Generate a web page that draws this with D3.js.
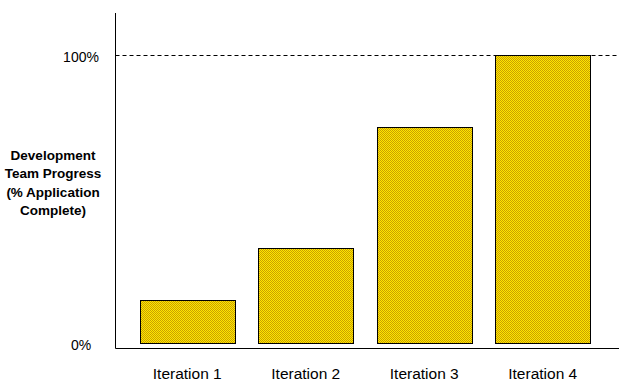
<!DOCTYPE html>
<html>
<meta charset="utf-8">
<head>
  <script src="https://d3js.org/d3.v7.min.js"></script>
  <style>
  body { margin: 0; background: #fff; }
  svg { display: block; font-family: Arial, "Liberation Sans", sans-serif; }
  .tick-label { font-size: 14px; fill: #000; }
  .cat-label { font-size: 15.5px; fill: #000; }
  .ytitle { font-size: 13.5px; font-weight: bold; fill: #000; }
  </style>
</head>
<body>
<div id="chart"></div>
<script>

// data
var iterations = ["Iteration 1", "Iteration 2", "Iteration 3", "Iteration 4"]
var progress = [15, 33, 75, 100]   // % application complete
var tickValues = [0, 100]
var tickLabels = ["0%", "100%"]
var titleLines = ["Development", "Team Progress", "(% Application", "Complete)"]

var W = 634, H = 386
var axisX = 115.5, axisTop = 13, axisY = 348.5, axisRight = 619

var svg = d3.select("#chart").append("svg")
    .attr("width", W)
    .attr("height", H)

// checker fill like the old office charts
var pat = svg.append("defs").append("pattern")
    .attr("id", "checker")
    .attr("patternUnits", "userSpaceOnUse")
    .attr("width", 2)
    .attr("height", 2)
pat.append("rect").attr("width", 2).attr("height", 2).attr("fill", "#ffe600")
pat.append("rect").attr("width", 1).attr("height", 1).attr("fill", "#c8a000")
pat.append("rect").attr("x", 1).attr("y", 1).attr("width", 1).attr("height", 1).attr("fill", "#c8a000")

var x = d3.scaleBand()
    .domain(iterations)
    .range([116, 614])
    .paddingInner(0.197)
    .paddingOuter(0.2)

var y = d3.scaleLinear()
    .domain([0, 100])
    .range([343, 55])

// dashed 100% line
svg.append("line")
    .attr("x1", axisX).attr("x2", axisRight)
    .attr("y1", y(100) + 0.5).attr("y2", y(100) + 0.5)
    .attr("stroke", "#000")
    .attr("stroke-dasharray", "4,3")

svg.selectAll("rect.bar").data(progress)
  .enter().append("rect")
    .attr("class", "bar")
    .attr("x", function(d, i) { return Math.round(x(iterations[i])) + 0.5 })
    .attr("y", function(d) { return Math.round(y(d)) + 0.5 })
    .attr("width", Math.round(x.bandwidth()))
    .attr("height", function(d) { return Math.round(y(0)) - Math.round(y(d)) })
    .attr("fill", "url(#checker)")
    .attr("stroke", "#000")
    .attr("stroke-width", 1)

// axes
svg.append("line")
    .attr("x1", axisX).attr("x2", axisX)
    .attr("y1", axisTop).attr("y2", axisY)
    .attr("stroke", "#000")
svg.append("line")
    .attr("x1", axisX).attr("x2", axisRight)
    .attr("y1", axisY).attr("y2", axisY)
    .attr("stroke", "#000")

svg.selectAll("text.tick-label").data(tickValues)
  .enter().append("text")
    .attr("class", "tick-label")
    .attr("x", 81)
    .attr("y", function(d) { return y(d) + 2 })
    .attr("dy", "0.35em")
    .attr("text-anchor", "middle")
    .text(function(d, i) { return tickLabels[i] })

svg.selectAll("text.cat-label").data(iterations)
  .enter().append("text")
    .attr("class", "cat-label")
    .attr("x", function(d) { return x(d) + x.bandwidth() / 2 })
    .attr("y", 379)
    .attr("text-anchor", "middle")
    .text(function(d) { return d })

svg.append("text")
    .attr("class", "ytitle")
    .attr("text-anchor", "middle")
    .selectAll("tspan").data(titleLines)
  .enter().append("tspan")
    .attr("x", 53)
    .attr("y", function(d, i) { return 160 + i * 18.3 })
    .text(function(d) { return d })

</script>
</body>
</html>
